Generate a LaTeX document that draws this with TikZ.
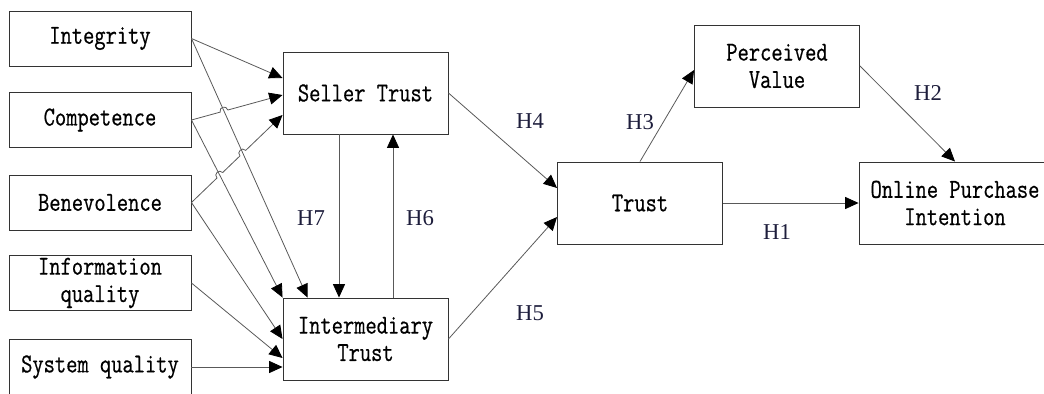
\documentclass[tikz,border=0pt]{standalone}
\usepackage{fontspec}
\newfontfamily\boxfont[FakeStretch=0.8,FakeBold=0.6]{Latin Modern Mono}
\newfontfamily\hfont{Liberation Serif}
\usetikzlibrary{arrows.meta,calc,intersections}
\definecolor{hcol}{RGB}{30,30,60}
\newcommand\mkhop[4]{% name, intersection, start, end
  \coordinate (#1a) at ($(#2)!3pt!(#3)$);
  \coordinate (#1b) at ($(#2)!3pt!(#4)$);
  \coordinate (#1c) at ($(#1a)!4pt!90:(#2)$);
  \coordinate (#1d) at ($(#1b)!4pt!-90:(#2)$);
}
\begin{document}
\begin{tikzpicture}[x=0.75pt,y=-0.75pt,
  bx/.style={draw=black!80, line width=0.7pt, inner sep=0pt, align=center,
    font=\boxfont\fontsize{20.5}{20.5}\selectfont},
  inbox/.style={bx, minimum width=136.5pt, minimum height=41.25pt},
  midbox/.style={bx, minimum width=123.75pt, minimum height=61.5pt},
  arr/.style={draw=black!65, line width=0.6pt, -{Triangle[length=10pt,width=9pt,color=black]}},
  hl/.style={font=\hfont\fontsize{17}{17}\selectfont, text=hcol, inner sep=0pt}
]
\useasboundingbox (0,0) rectangle (1044,393);

% left boxes
\node[inbox] (integ) at (100,38.5) {Integrity};
\node[inbox] (comp) at (100,120) {Competence};
\node[inbox] (bene) at (100,202.5) {Benevolence};
\node[inbox] (info) at (100,283) {Information\\quality};
\node[inbox, minimum height=42pt] (sys) at (100,367) {System quality};

% middle boxes
\node[midbox] (seller) at (365.5,93) {Seller Trust};
\node[midbox] (inter) at (365.5,339) {Intermediary\\Trust};
\node[midbox] (trust) at (640,203) {Trust};
\node[midbox] (pv) at (777,66) {Perceived\\Value};
\node[midbox, minimum width=144pt] (opi) at (955,203) {Online Purchase\\Intention};

% target points
\coordinate (sT1) at ($(seller.west)+(0,-15)$);
\coordinate (sT2) at ($(seller.west)+(0,2)$);
\coordinate (sT3) at ($(seller.west)+(0,22)$);
\coordinate (iT1) at ($(inter.north west)+(25,0)$);
\coordinate (iT2) at ($(inter.west)+(0,19)$);
\coordinate (iT3) at ($(inter.west)+(0,28)$);
\coordinate (sB1) at ($(seller.south)+(-26.5,0)$);
\coordinate (iN1) at ($(inter.north)+(-26.5,0)$);
\coordinate (sB2) at ($(seller.south)+(27.5,0)$);
\coordinate (iN2) at ($(inter.north)+(27.5,0)$);
\coordinate (tW1) at ($(trust.west)+(0,-15)$);
\coordinate (tW2) at ($(trust.west)+(0,14)$);
\coordinate (pvW) at ($(pv.west)+(0,4)$);

% intersection paths
\path[name path=pInt] (integ.east) -- (iT1);
\path[name path=pComp] (comp.east) -- (inter.north west);
\path[name path=pComS] (comp.east) -- (sT2);
\path[name path=pBenS] (bene.east) -- (sT3);
\path[name intersections={of=pComS and pInt, by=h1}];
\path[name intersections={of=pBenS and pComp, by=h2}];
\path[name intersections={of=pBenS and pInt, by=h3}];
\mkhop{h1}{h1}{comp.east}{sT2}
\mkhop{h2}{h2}{bene.east}{sT3}
\mkhop{h3}{h3}{bene.east}{sT3}

% to seller trust
\draw[arr] (integ.east) -- (sT1);
\draw[arr] (comp.east) -- (h1a) .. controls (h1c) and (h1d) .. (h1b) -- (sT2);
\draw[arr] (bene.east) -- (h2a) .. controls (h2c) and (h2d) .. (h2b)
  -- (h3a) .. controls (h3c) and (h3d) .. (h3b) -- (sT3);

% to intermediary trust
\draw[arr] (integ.east) -- (iT1);
\draw[arr] (comp.east) -- (inter.north west);
\draw[arr] (bene.east) -- (inter.west);
\draw[arr] (info.east) -- (iT2);
\draw[arr] (sys.east |- iT3) -- (iT3);

% between seller and intermediary
\draw[arr] (sB1) -- (iN1);
\draw[arr] (iN2) -- (sB2);

% to trust and beyond
\draw[arr] (seller.east) -- (tW1);
\draw[arr] (inter.east) -- (tW2);
\draw[arr] (trust.north) -- (pvW);
\draw[arr] (pv.east) -- (opi.north);
\draw[arr] (trust.east) -- (opi.west);

% labels
\node[hl] (H4) at (530,121) {H4};
\node[hl] (H5) at (530,313) {H5};
\node[hl] (H7) at (311,218) {H7};
\node[hl] (H6) at (420,218) {H6};
\node[hl] (H3) at (640,122) {H3};
\node[hl] (H2) at (928,93) {H2};
\node[hl] (H1) at (777,232) {H1};
\end{tikzpicture}
\end{document}
